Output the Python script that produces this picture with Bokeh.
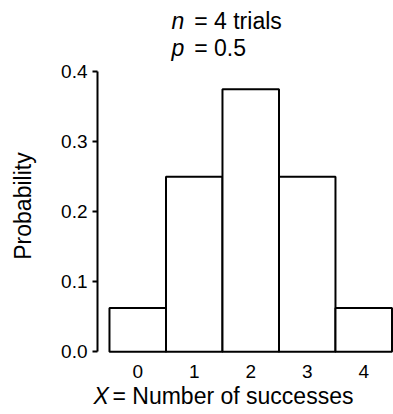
import math
from bokeh.plotting import figure
from bokeh.models import Range1d, FixedTicker, PrintfTickFormatter, Label
from bokeh.embed import file_html
from bokeh.resources import INLINE

# data
successes = [0, 1, 2, 3, 4]
probability = [0.0625, 0.25, 0.375, 0.25, 0.0625]
y_ticks = [0.0, 0.1, 0.2, 0.3, 0.4]
n_trials = 4
p_success = 0.5

FONT = "Liberation Sans"
BIG = "23px"
LH = 1.05

p = figure(width=393, height=414, output_backend="svg", toolbar_location=None,
           x_range=Range1d(-0.712, 4.527), y_range=Range1d(-0.004, 0.4046),
           min_border_left=97, min_border_right=0, min_border_top=68, min_border_bottom=60)
p.outline_line_color = None
p.xgrid.visible = False
p.ygrid.visible = False
p.background_fill_color = "white"
p.border_fill_color = "white"

p.vbar(x=successes, top=probability, bottom=0, width=1.0,
       fill_color="white", line_color="black", line_width=2)

# y axis
ya = p.yaxis[0]
ya.ticker = FixedTicker(ticks=y_ticks)
ya.formatter = PrintfTickFormatter(format="%.1f")
ya.bounds = (0, 0.4)
ya.axis_line_width = 2
ya.major_tick_line_width = 2
ya.major_tick_out = 5
ya.major_tick_in = 0
ya.minor_tick_out = 0
ya.minor_tick_in = 0
ya.major_label_standoff = 5
ya.major_label_text_font = FONT
ya.major_label_text_font_size = "19px"
ya.major_label_text_color = "black"

# x axis
xa = p.xaxis[0]
xa.ticker = FixedTicker(ticks=successes)
xa.axis_line_color = None
xa.major_tick_line_color = None
xa.minor_tick_line_color = None
xa.major_tick_out = 0
xa.major_tick_in = 0
xa.major_label_standoff = 10
xa.major_label_text_font = FONT
xa.major_label_text_font_size = "19px"
xa.major_label_text_color = "black"

def lab(side, x, y, text, style="normal", **kw):
    l = Label(x=x, y=y, text=text, text_font=FONT, text_font_size=BIG,
              text_font_style=style, text_color="black", **kw)
    p.add_layout(l, side)

# y label (left panel, rotated)
lab("left", -2.022, 0.2081, "Probability", text_align="center",
    text_baseline="middle", angle=math.pi / 2)

# title lines: italic symbols, then the rest
lab("left", 0.597, 0.4914, "n\np", "italic", text_baseline="top", text_line_height=LH)
lab("above", 1.0, 0.4914, f"= {n_trials} trials\n= {p_success}", text_baseline="top",
    text_line_height=LH)

# x label
lab("left", -0.783, -0.0626, "X", "italic", text_baseline="alphabetic")
lab("below", -0.447, -0.0626, "= Number of successes", text_baseline="alphabetic")

open("out.html", "w").write(file_html(p, INLINE))
